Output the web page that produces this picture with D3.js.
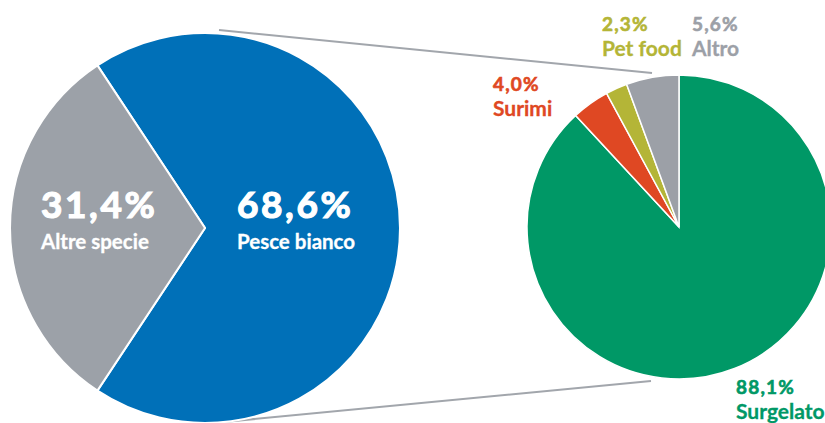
<!DOCTYPE html>
<html>
<head>
<meta charset="utf-8">
<script src="https://cdn.jsdelivr.net/npm/d3@7"></script>
<style>
  body { margin: 0; background: #fff; }
  text { font-family: Lato, "Open Sans", sans-serif; font-weight: bold; }
</style>
</head>
<body>
<div id="chart"></div>
<script>
// left pie: species split
var mainLabels = ['Pesce bianco', 'Altre specie']
var mainValues = [68.6, 31.4]
var mainColors = ['#0070b8', '#9ca1a8']

// right pie: breakdown of "Pesce bianco"
var subLabels = ['Surgelato', 'Surimi', 'Pet food', 'Altro']
var subValues = [88.1, 4.0, 2.3, 5.6]
var subColors = ['#009866', '#df4823', '#b4b537', '#9ca0a7']

const width = 825
const height = 423

const fmt = v => d3.format('.1f')(v).replace('.', ',') + '%'

const svg = d3.select('#chart')
    .append('svg')
    .attr('width', width)
    .attr('height', height)

const left = { x: 205, y: 228, r: 195 }
const right = { x: 679, y: 227, r: 152 }

// connector lines (drawn first, behind pies)
const lineColor = '#a2a6ac'
svg.append('line')
    .attr('x1', left.x + 14).attr('y1', left.y - left.r - 3)
    .attr('x2', right.x - 27).attr('y2', right.y - right.r - 2)
    .attr('stroke', lineColor).attr('stroke-width', 2)
svg.append('line')
    .attr('x1', left.x + 8).attr('y1', left.y + left.r)
    .attr('x2', right.x - 28).attr('y2', right.y + right.r + 2)
    .attr('stroke', lineColor).attr('stroke-width', 2)

// left pie: grey slice centred on the left side
const total = d3.sum(mainValues)
const start = 1.5 * Math.PI - Math.PI * mainValues[1] / total - 2 * Math.PI * mainValues[0] / total
const pieMain = d3.pie().sort(null).startAngle(start).endAngle(start + 2 * Math.PI)
const arcMain = d3.arc().innerRadius(0).outerRadius(left.r)

const gL = svg.append('g').attr('transform', `translate(${left.x},${left.y})`)
gL.selectAll('path')
    .data(pieMain(mainValues))
    .join('path')
    .attr('d', arcMain)
    .attr('fill', (d, i) => mainColors[i])
    .attr('stroke', '#fff')
    .attr('stroke-width', 2)

// labels inside left pie (a thin stroke makes the digits heavier)
const mainPos = [{ x: 237, y: 218 }, { x: 41, y: 218 }]
mainValues.forEach((v, i) => {
    const p = mainPos[i]
    svg.append('text')
        .attr('x', p.x).attr('y', p.y)
        .attr('fill', '#fff')
        .attr('stroke', '#fff')
        .attr('stroke-width', 1.2)
        .attr('font-size', 37)
        .attr('letter-spacing', 2.6)
        .text(fmt(v))
    svg.append('text')
        .attr('x', p.x).attr('y', p.y + 31)
        .attr('fill', '#fff')
        .attr('stroke', '#fff')
        .attr('stroke-width', 0.3)
        .attr('font-size', 20.5)
        .text(mainLabels[i])
})

// right pie, Surgelato starting at 12 o'clock
const pieSub = d3.pie().sort(null)
const arcSub = d3.arc().innerRadius(0).outerRadius(right.r)
const gR = svg.append('g').attr('transform', `translate(${right.x},${right.y})`)
gR.selectAll('path')
    .data(pieSub(subValues))
    .join('path')
    .attr('d', arcSub)
    .attr('fill', (d, i) => subColors[i])
    .attr('stroke', '#fff')
    .attr('stroke-width', 1.5)

// outside labels (left-aligned)
const subPos = [{ x: 736, y: 394 }, { x: 493, y: 91 }, { x: 602, y: 31 }, { x: 692, y: 31 }]
subValues.forEach((v, i) => {
    const p = subPos[i]
    svg.append('text')
        .attr('x', p.x).attr('y', p.y)
        .attr('fill', subColors[i])
        .attr('stroke', subColors[i])
        .attr('stroke-width', 0.6)
        .attr('font-size', 19)
        .attr('letter-spacing', 1.2)
        .text(fmt(v))
    svg.append('text')
        .attr('x', p.x).attr('y', p.y + 24.5)
        .attr('fill', subColors[i])
        .attr('stroke', subColors[i])
        .attr('stroke-width', 0.3)
        .attr('font-size', 21)
        .text(subLabels[i])
})
</script>
</body>
</html>
